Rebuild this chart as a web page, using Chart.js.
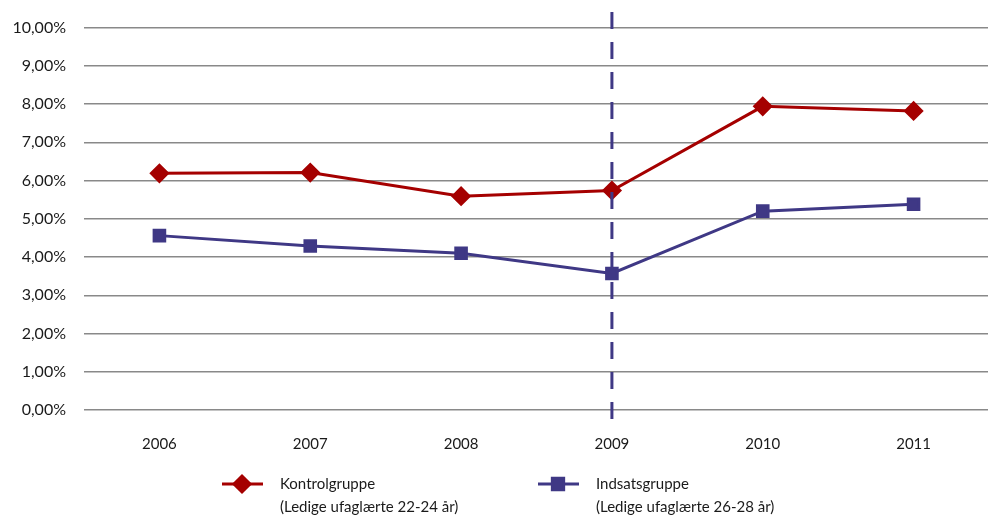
<!DOCTYPE html>
<html>
<head>
<meta charset="utf-8">
<script src="https://cdn.jsdelivr.net/npm/chart.js@4"></script>
<style>
  html, body { margin: 0; padding: 0; background: #fff; overflow: hidden; }
  #clip { width: 988px; height: 517px; overflow: hidden; position: relative; }
  canvas { display: block; }
</style>
</head>
<body>
<div id="clip"><canvas id="myChart" width="1000" height="517"></canvas></div>
<script>
// data
const years = ["2006", "2007", "2008", "2009", "2010", "2011"]
const kontrol = [6.19, 6.21, 5.59, 5.74, 7.94, 7.82]
const indsats = [4.56, 4.29, 4.10, 3.57, 5.20, 5.38]
const seriesNames = [
  ["Kontrolgruppe", "(Ledige ufaglærte 22-24 år)"],
  ["Indsatsgruppe", "(Ledige ufaglærte 26-28 år)"],
]
const markerYear = "2009"

const red = "#A50000"
const purple = "#3F3885"
const font = "Lato, 'Open Sans', sans-serif"

// dashed vertical line + two line legend
const extras = {
  id: "extras",
  afterDatasetsDraw(chart) {
    const ctx = chart.ctx
    const x = chart.scales.x.getPixelForValue(years.indexOf(markerYear))
    ctx.save()
    ctx.strokeStyle = purple
    ctx.lineWidth = 3
    ctx.setLineDash([17, 13])
    ctx.beginPath()
    ctx.moveTo(x, 12)
    ctx.lineTo(x, 426)
    ctx.stroke()
    ctx.restore()
  },
  afterDraw(chart) {
    const ctx = chart.ctx
    const items = [
      { x: 222, color: red, style: "rectRot", r: 8, names: seriesNames[0] },
      { x: 538, color: purple, style: "rect", r: 8, names: seriesNames[1] },
    ]
    ctx.save()
    items.forEach((it) => {
      ctx.strokeStyle = it.color
      ctx.fillStyle = it.color
      ctx.lineWidth = 3
      ctx.beginPath()
      ctx.moveTo(it.x, 484)
      ctx.lineTo(it.x + 41, 484)
      ctx.stroke()
      Chart.helpers.drawPoint(ctx, { pointStyle: it.style, radius: it.r, borderWidth: 1 }, it.x + 20, 484)
      ctx.fillStyle = "#1a1a1a"
      ctx.font = "15px " + font
      ctx.textBaseline = "middle"
      ctx.fillText(it.names[0], it.x + 58, 484)
      ctx.fillText(it.names[1], it.x + 58, 507)
    })
    ctx.restore()
  },
}

new Chart(document.querySelector("#myChart"), {
  type: "line",
  data: {
    labels: years,
    datasets: [
      {
        label: seriesNames[0][0],
        data: kontrol,
        borderColor: red,
        backgroundColor: red,
        borderWidth: 3,
        pointStyle: "rectRot",
        pointRadius: 8,
        pointHoverRadius: 8,
      },
      {
        label: seriesNames[1][0],
        data: indsats,
        borderColor: purple,
        backgroundColor: purple,
        borderWidth: 3,
        pointStyle: "rect",
        pointRadius: 7.5,
        pointHoverRadius: 7.5,
      },
    ],
  },
  options: {
    responsive: false,
    animation: false,
    // canvas is a bit wider than the page; the plot runs past the right edge like the original
    layout: { padding: { top: 20, right: 3, left: 0, bottom: 0 } },
    plugins: {
      legend: { display: false },
      tooltip: { enabled: false },
    },
    scales: {
      x: {
        offset: true,
        grid: { display: false },
        border: { display: false },
        ticks: { color: "#1a1a1a", font: { family: font, size: 15 }, padding: 17 },
        afterFit(scale) {
          scale.height = 107
          scale.paddingLeft = 0
          scale.paddingRight = 0
        },
      },
      y: {
        min: 0,
        max: 10,
        grid: { color: "#898989", lineWidth: 1.5, drawTicks: false },
        border: { display: false },
        ticks: {
          stepSize: 1,
          color: "#1a1a1a",
          padding: 18,
          font: { family: font, size: 16 },
          callback: (v) => v.toFixed(2).replace(".", ",") + "%",
        },
        afterFit(scale) { scale.width = 84 },
      },
    },
  },
  plugins: [extras],
})
</script>
</body>
</html>
